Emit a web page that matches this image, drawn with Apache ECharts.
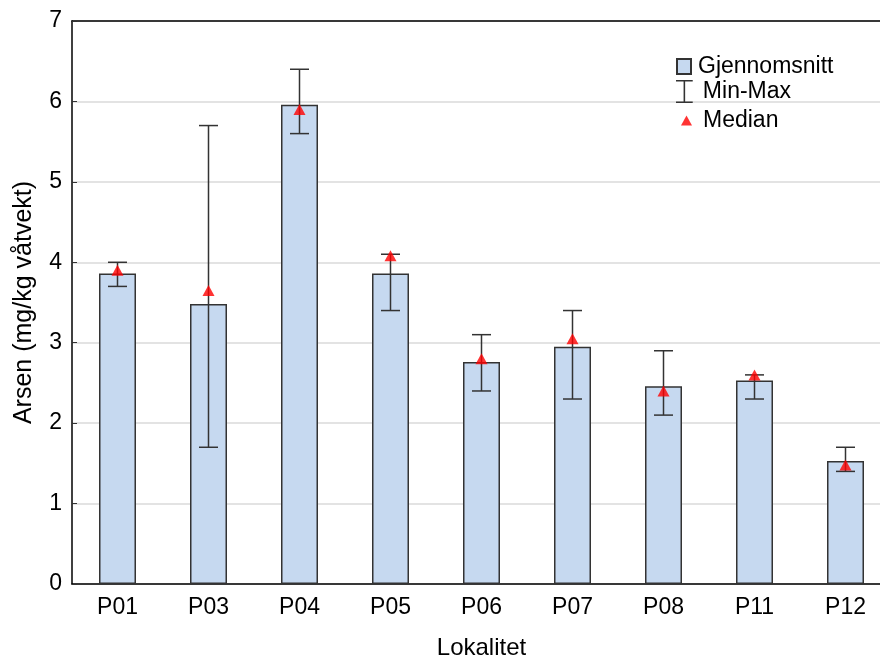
<!DOCTYPE html>
<html>
<head>
<meta charset="utf-8">
<script src="https://cdn.jsdelivr.net/npm/echarts@6/dist/echarts.min.js"></script>
<style>
html,body{margin:0;padding:0;background:#fff;}
#chart{width:880px;height:662px;}
</style>
</head>
<body>
<div id="chart"></div>
<script>
const categories = ['P01','P03','P04','P05','P06','P07','P08','P11','P12'];
const meanValues = [3.86, 3.48, 5.96, 3.86, 2.76, 2.95, 2.46, 2.53, 1.53];
const minValues = [3.7, 1.7, 5.6, 3.4, 2.4, 2.3, 2.1, 2.3, 1.4];
const maxValues = [4.0, 5.7, 6.4, 4.1, 3.1, 3.4, 2.9, 2.6, 1.7];
const medianValues = [3.9, 3.65, 5.9, 4.08, 2.8, 3.05, 2.4, 2.6, 1.48];
const yMin = 0, yMax = 7, yStep = 1;

const FONT = "'Liberation Sans', Arial, sans-serif";
const chart = echarts.init(document.getElementById('chart'), null, {renderer: 'canvas'});

const errData = categories.map((c, i) => [i, minValues[i], maxValues[i]]);
const capHalf = 9.5;

const option = {
  backgroundColor: '#fff',
  animation: false,
  textStyle: {fontFamily: FONT, color: '#000'},
  grid: {left: 72, top: 21, right: -11, bottom: 78, containLabel: false, outerBoundsMode: 'none'},
  xAxis: [{
    type: 'category',
    data: categories,
    position: 'bottom',
    axisLine: {lineStyle: {color: '#000', width: 1.5}},
    axisTick: {inside: true, alignWithLabel: true, length: 4, lineStyle: {color: '#333', width: 1}},
    axisLabel: {fontSize: 23, color: '#000', fontFamily: FONT, margin: 12},
    name: 'Lokalitet',
    nameLocation: 'middle',
    nameGap: 52,
    nameTextStyle: {fontSize: 24, color: '#000', fontFamily: FONT},
    splitLine: {show: false}
  }, {
    type: 'category',
    data: categories,
    position: 'top',
    axisLine: {lineStyle: {color: '#000', width: 1.5}},
    axisTick: {inside: true, alignWithLabel: true, length: 5, lineStyle: {color: '#333', width: 1}},
    axisLabel: {show: false},
    splitLine: {show: false}
  }],
  yAxis: {
    type: 'value',
    min: yMin, max: yMax, interval: yStep,
    axisLine: {show: true, lineStyle: {color: '#000', width: 1.5}},
    axisTick: {show: true, inside: true, length: 5, lineStyle: {color: '#333'}},
    axisLabel: {fontSize: 23, color: '#000', fontFamily: FONT, margin: 10},
    splitLine: {show: true, lineStyle: {color: '#dadada', width: 1.5}},
    name: 'Arsen (mg/kg våtvekt)',
    nameLocation: 'middle',
    nameGap: 35,
    nameTextStyle: {fontSize: 25, color: '#000', fontFamily: FONT}
  },
  legend: [{
    data: [{name: 'Gjennomsnitt', icon: 'rect'}],
    left: 676, top: 55,
    itemWidth: 14, itemHeight: 15,
    itemGap: 0, padding: 0,
    textStyle: {fontSize: 23, color: '#000', fontFamily: FONT, padding: [0, 0, 0, 2]},
    selectedMode: false
  }, {
    data: [{name: 'Min-Max', icon: 'path://M0,0H16V1.5H8.75V20.5H16V22H0V20.5H7.25V1.5H0Z'}],
    left: 676, top: 80,
    itemWidth: 17, itemHeight: 23,
    itemGap: 0, padding: 0,
    textStyle: {fontSize: 23, color: '#000', fontFamily: FONT, padding: [0, 0, 0, 5]},
    selectedMode: false
  }, {
    data: [{name: 'Median', icon: 'triangle'}],
    left: 681, top: 109,
    itemWidth: 11, itemHeight: 10,
    itemGap: 0, padding: 0,
    textStyle: {fontSize: 23, color: '#000', fontFamily: FONT, padding: [0, 0, 0, 6]},
    selectedMode: false
  }],
  series: [{
    name: 'Gjennomsnitt',
    type: 'bar',
    data: meanValues,
    barWidth: 37,
    itemStyle: {color: '#c6d9f0', borderColor: '#333', borderWidth: 1.5},
    z: 2
  }, {
    name: 'Min-Max',
    type: 'custom',
    data: errData,
    encode: {x: 0, y: [1, 2]},
    itemStyle: {color: '#333'},
    renderItem: function (params, api) {
      const lo = api.coord([api.value(0), api.value(1)]);
      const hi = api.coord([api.value(0), api.value(2)]);
      const st = {stroke: '#333', lineWidth: 1.5};
      return {
        type: 'group',
        children: [
          {type: 'line', shape: {x1: lo[0], y1: lo[1], x2: hi[0], y2: hi[1]}, style: st},
          {type: 'line', shape: {x1: lo[0] - capHalf, y1: lo[1], x2: lo[0] + capHalf, y2: lo[1]}, style: st},
          {type: 'line', shape: {x1: hi[0] - capHalf, y1: hi[1], x2: hi[0] + capHalf, y2: hi[1]}, style: st}
        ]
      };
    },
    z: 3
  }, {
    name: 'Median',
    type: 'scatter',
    data: medianValues,
    symbol: 'triangle',
    symbolSize: [12, 11],
    itemStyle: {color: '#ff0000'},
    z: 4
  }]
};
chart.setOption(option);
</script>
</body>
</html>
